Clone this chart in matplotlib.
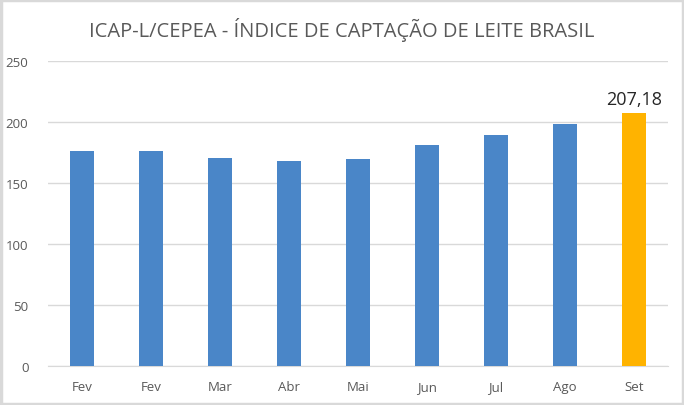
import matplotlib
matplotlib.use("Agg")
import matplotlib.pyplot as plt
from matplotlib.patches import Rectangle

# Data
months = ["Fev", "Fev", "Mar", "Abr", "Mai", "Jun", "Jul", "Ago", "Set"]
values = [176, 176, 170.5, 168.5, 170, 181.5, 189.5, 198.5, 207.18]
highlight_label = "207,18"
yticks = [0, 50, 100, 150, 200, 250]

blue = "#4a86c8"
orange = "#ffb300"
grid_color = "#d9d9d9"
text_color = "#595959"

plt.rcParams["font.family"] = ["Open Sans", "DejaVu Sans"]

fig = plt.figure(figsize=(6.84, 4.06), dpi=100)
ax = fig.add_axes([0.070, 0.096, 0.907, 0.751])

colors = [blue] * (len(values) - 1) + [orange]
x = list(range(len(months)))
ax.bar(x, values, width=0.35, color=colors, zorder=3)

# label on the last bar only
ax.text(x[-1], values[-1] + 4, highlight_label, ha="center", va="bottom",
        fontsize=13, color="#262626")

ax.set_xlim(-0.5, len(months) - 0.5)
ax.set_ylim(0, 250)
ax.set_yticks(yticks)
ax.set_xticks(x)
ax.set_xticklabels(months)
ax.tick_params(axis="both", length=0, labelsize=9.5, colors=text_color)
ax.tick_params(axis="x", pad=10)
ax.tick_params(axis="y", pad=14)

ax.grid(axis="y", color=grid_color, linewidth=1, zorder=0)
for side in ["top", "right", "left"]:
    ax.spines[side].set_visible(False)
ax.spines["bottom"].set_color(grid_color)

fig.text(0.5, 0.925, "ICAP-L/CEPEA - ÍNDICE DE CAPTAÇÃO DE LEITE BRASIL",
         ha="center", va="center", fontsize=14.5, color=text_color)

# light gray frame round the whole chart
fig.patches.append(Rectangle((0.002, 0.003), 0.996, 0.994, transform=fig.transFigure,
                             fill=False, edgecolor=grid_color, linewidth=2.5))

fig.savefig("out.png", dpi=100)
